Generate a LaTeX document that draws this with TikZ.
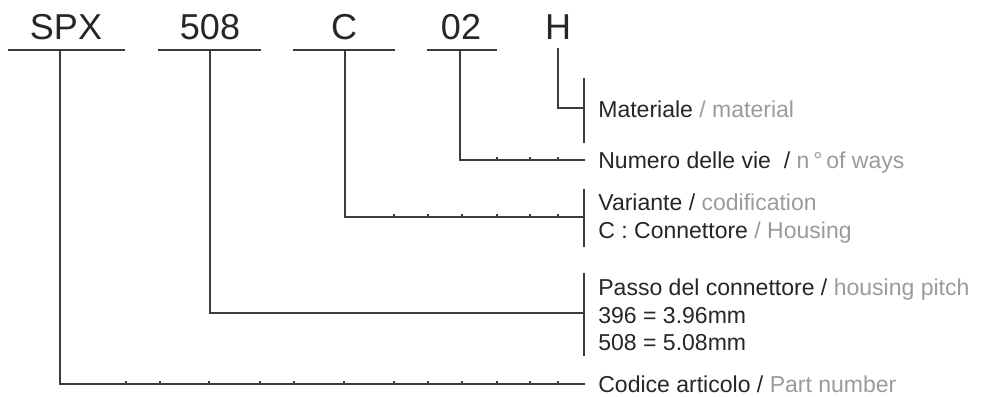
\documentclass[tikz,border=0pt]{standalone}
\usepackage{fontspec}
\setmainfont{Liberation Sans}
\usetikzlibrary{calc, positioning}
\definecolor{ink}{HTML}{262626}
\definecolor{soft}{HTML}{9B9B9B}
\definecolor{wire}{HTML}{3C3C3C}

\begin{document}
\begin{tikzpicture}[x=0.02cm, y=-0.02cm,
  code/.style={font=\fontsize{20.5}{24}\selectfont, text=ink, inner sep=0pt, anchor=base},
  desc/.style={font=\fontsize{13.1}{15.5}\selectfont, text=ink, inner sep=0pt, anchor=base west},
  lead/.style={line width=0.85pt, draw=wire},
  tick/.style={line width=0.7pt, draw=wire}]
\useasboundingbox (0,0) rectangle (982,396);

% Code letters
\node[code] (spx) at (66,39) {SPX};
\node[code] (pitch) at (210,39) {508};
\node[code] (var) at (344,39) {C};
\node[code] (ways) at (461,39) {02};
\node[code] (mat) at (558,39) {H};

% Underlines
\coordinate (spxL) at (8,50);   \coordinate (spxR) at (125,50);
\coordinate (pitchL) at (158,50); \coordinate (pitchR) at (261,50);
\coordinate (varL) at (293,50); \coordinate (varR) at (395,50);
\coordinate (waysL) at (427,50); \coordinate (waysR) at (497,50);
\draw[lead] (spxL) -- (spxR);
\draw[lead] (pitchL) -- (pitchR);
\draw[lead] (varL) -- (varR);
\draw[lead] (waysL) -- (waysR);

% Brackets in front of the texts
\coordinate (matT) at (584,78);   \coordinate (matB) at (584,143);
\coordinate (varT) at (584,189);  \coordinate (varB) at (584,247);
\coordinate (pitchT) at (584,273); \coordinate (pitchB) at (584,356);
\draw[lead] (matT) -- (matB);
\draw[lead] (varT) -- (varB);
\draw[lead] (pitchT) -- (pitchB);

% Leaders from each part of the code
\coordinate (spxTop) at (60,50);    \coordinate (spxEnd) at (585,384);
\coordinate (pitchTop) at (210,50); \coordinate (pitchEnd) at (584,313);
\coordinate (varTop) at (345,50);   \coordinate (varEnd) at (584,217);
\coordinate (waysTop) at (460,50);  \coordinate (waysEnd) at (585,160);
\coordinate (matTop) at (558,48);   \coordinate (matEnd) at (584,108);
\draw[lead] (spxTop) |- (spxEnd);
\draw[lead] (pitchTop) |- (pitchEnd);
\draw[lead] (varTop) |- (varEnd);
\draw[lead] (waysTop) |- (waysEnd);
\draw[lead] (matTop) |- (matEnd);

% Small ticks on the leaders
\foreach \x in {126,160,209,260,294,344,394,428,462,497,530,558}
  \draw[tick] (\x,381) -- (\x,384);
\foreach \x in {394,428,462,497,530,558}
  \draw[tick] (\x,214) -- (\x,217);
\foreach \x in {497,530,558}
  \draw[tick] (\x,157) -- (\x,160);

% Labels
\node[desc] (matTxt) at (598,117) {Materiale \textcolor{soft}{/ material}};
\node[desc] (waysTxt) at (598,168) {Numero delle vie\ \ / \textcolor{soft}{n\,°\,of ways}};
\node[desc] (varTxt) at (598,210) {Variante / \textcolor{soft}{codification}};
\node[desc] (varTxtB) at (598,238) {C : Connettore \textcolor{soft}{/ Housing}};
\node[desc] (pitchTxt) at (598,295) {Passo del connettore / \textcolor{soft}{housing pitch}};
\node[desc] (pitchTxtB) at (598,323) {396 = 3.96mm};
\node[desc] (pitchTxtC) at (598,350) {508 = 5.08mm};
\node[desc] (spxTxt) at (598,392) {Codice articolo / \textcolor{soft}{Part number}};
\end{tikzpicture}
\end{document}
